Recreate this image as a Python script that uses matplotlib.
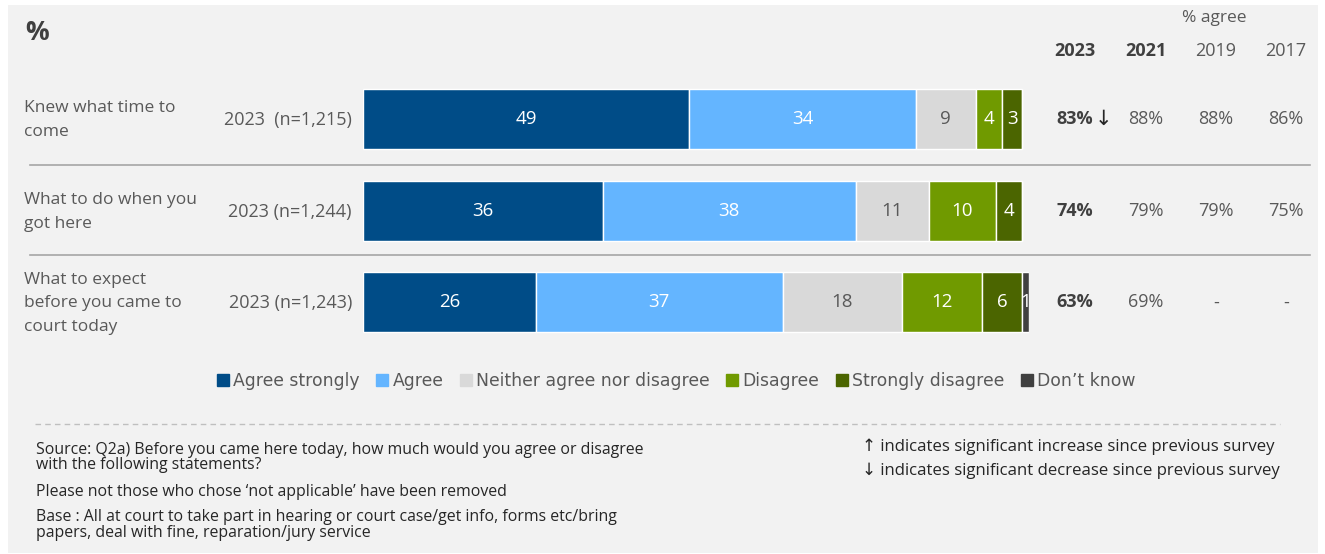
import matplotlib.pyplot as plt
import matplotlib.patches as mpatches
from matplotlib.lines import Line2D
import numpy as np

plt.rcParams['font.family'] = ['Open Sans', 'DejaVu Sans']

statements = ['Knew what time to\ncome', 'What to do when you\ngot here',
              'What to expect\nbefore you came to\ncourt today']
bases = ['2023  (n=1,215)', '2023 (n=1,244)', '2023 (n=1,243)']
categories = ['Agree strongly', 'Agree', 'Neither agree nor disagree',
              'Disagree', 'Strongly disagree', 'Don\u2019t know']
values = np.array([
    [49, 34, 9, 4, 3, 0],
    [36, 38, 11, 10, 4, 0],
    [26, 37, 18, 12, 6, 1],
])
colors = ['#004c87', '#64b5ff', '#d9d9d9', '#709a00', '#4b6500', '#404040']
label_colors = ['white', 'white', '#595959', 'white', 'white', 'white']

years = ['2023', '2021', '2019', '2017']
agree = [['83%', '88%', '88%', '86%'],
         ['74%', '79%', '79%', '75%'],
         ['63%', '69%', '-', '-']]
sig_marks = ['\u2193', '', '']

W, H = 1325, 554
fig = plt.figure(figsize=(W / 100, H / 100), dpi=100)
fig.patch.set_facecolor('white')
grey = '#595959'


def px(x, y):
    return x / W, 1 - y / H


# panel background
fig.patches.append(mpatches.Rectangle(px(8, 553), 1310 / W, 548 / H,
                                      transform=fig.transFigure,
                                      facecolor='#f2f2f2', edgecolor='none', zorder=-5))

# bar axes: rows centred at y=119, 211, 302.5 px
top, bottom = 73.2, 348.3
ax = fig.add_axes([363 / W, 1 - bottom / H, (1029 - 363) / W, (bottom - top) / H])
ax.set_facecolor('none')
ax.set_zorder(2)
rows = np.arange(len(statements))
left = np.zeros(len(statements))
for j, cat in enumerate(categories):
    v = values[:, j]
    ax.barh(rows, v, left=left, height=0.655, color=colors[j],
            edgecolor='white', linewidth=1.0, label=cat)
    for i in rows:
        if v[i] > 0:
            ax.text(left[i] + v[i] / 2, i, str(v[i]), ha='center', va='center',
                    color=label_colors[j], fontsize=13.5)
    left += v
ax.set_xlim(0, 100)
ax.set_ylim(2.5, -0.5)
ax.axis('off')

# title
fig.text(*px(25, 33), '%', fontsize=19, fontweight='bold', color='#404040', va='center')

# row labels
for i, (s, b) in enumerate(zip(statements, bases)):
    yc = 120 + i * 91.7
    fig.text(*px(24, yc), s, fontsize=12.5, color=grey, va='center', linespacing=1.65)
    fig.text(*px(352, yc), b, fontsize=13, color=grey, va='center', ha='right')

# separators
for y in [165, 255]:
    fig.add_artist(Line2D([30 / W, 1310 / W], [1 - y / H] * 2, color='#a6a6a6', lw=1.2))

# % agree table
col_x = [1075, 1146, 1216, 1286]
fig.text(*px(1214, 18), '% agree', fontsize=12.5, color=grey, ha='center', va='center')
for k, (yr, cx) in enumerate(zip(years, col_x)):
    fig.text(*px(cx, 51), yr, fontsize=13, color='#404040' if k < 2 else grey,
             fontweight='bold' if k < 2 else 'normal', ha='center', va='center')
for i in rows:
    yc = 119 + i * 91.7
    for k, cx in enumerate(col_x):
        fig.text(*px(cx, yc), agree[i][k], fontsize=13,
                 color='#404040' if k == 0 else grey,
                 fontweight='bold' if k == 0 else 'normal', ha='center', va='center')
    if sig_marks[i]:
        fig.text(*px(1103, yc), sig_marks[i], fontsize=15, color='#262626',
                 ha='center', va='center', family=['DejaVu Sans'])

# legend
handles = [Line2D([], [], marker='s', ls='none', markersize=8, color=c) for c in colors]
fig.legend(handles, categories, loc='center', bbox_to_anchor=px(675, 381), ncol=6,
           frameon=False, handletextpad=0.1, columnspacing=0.8, handlelength=1.0,
           prop={'family': ['DejaVu Sans'], 'size': 12.4},
           labelcolor=grey)

# dashed divider
fig.add_artist(Line2D([35 / W, 1280 / W], [1 - 424 / H] * 2, color='#bfbfbf',
                      lw=1, ls=(0, (4, 3))))

# footnotes
notes = [(450, 'Source: Q2a) Before you came here today, how much would you agree or disagree'),
         (465, 'with the following statements?'),
         (492, 'Please not those who chose \u2018not applicable\u2019 have been removed'),
         (517, 'Base : All at court to take part in hearing or court case/get info, forms etc/bring'),
         (533, 'papers, deal with fine, reparation/jury service')]
for y, t in notes:
    fig.text(*px(36, y), t, fontsize=11.4, color='#262626', va='center')

fig.text(*px(862, 447), '\u2191 indicates significant increase since previous survey',
         fontsize=12.1, color='#262626', va='center')
fig.text(*px(862, 471), '\u2193 indicates significant decrease since previous survey',
         fontsize=12.1, color='#262626', va='center')

fig.savefig('out.png', dpi=100, facecolor='white')
